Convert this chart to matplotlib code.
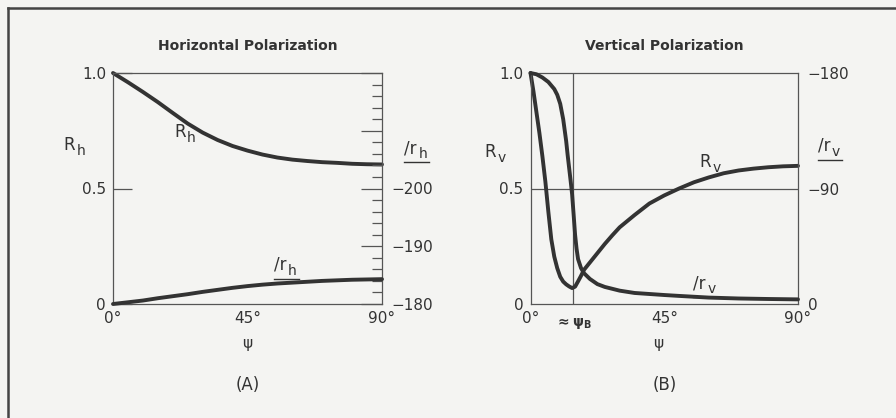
import numpy as np
import matplotlib
matplotlib.use('Agg')
import matplotlib.pyplot as plt
from matplotlib.lines import Line2D
from matplotlib.transforms import Bbox
from matplotlib.ticker import MultipleLocator

plt.rcParams['font.family'] = ['DejaVu Sans']
plt.rcParams['mathtext.default'] = 'regular'

# ---- data ----
# (A) horizontal polarization, psi in degrees
psi_h = [0, 5, 10, 15, 20, 25, 30, 35, 40, 45, 50, 55, 60, 65, 70, 75, 80, 85, 90]
R_h = [1.00, 0.960, 0.918, 0.874, 0.827, 0.781, 0.742, 0.710, 0.684, 0.664,
       0.647, 0.634, 0.625, 0.619, 0.614, 0.611, 0.607, 0.605, 0.604]
phase_h = [-180.0, -180.3, -180.6, -181.0, -181.35, -181.7, -182.1, -182.45, -182.8, -183.1,
           -183.35, -183.55, -183.7, -183.85, -184.0, -184.1, -184.2, -184.25, -184.3]

# (B) vertical polarization
psi_v = [0, 1, 2, 3, 4, 5, 6, 7, 8, 9, 10, 11, 12, 13, 14, 15, 16, 17, 18, 20,
         22.5, 25, 27.5, 30, 35, 40, 45, 50, 55, 60, 65, 70, 75, 80, 85, 90]
R_v = [1.0, 0.92, 0.83, 0.74, 0.64, 0.53, 0.40, 0.28, 0.205, 0.155, 0.118, 0.097,
       0.085, 0.076, 0.069, 0.075, 0.098, 0.122, 0.148, 0.18,
       0.22, 0.26, 0.297, 0.332, 0.385, 0.435, 0.47, 0.50, 0.527, 0.548, 0.566,
       0.578, 0.586, 0.592, 0.596, 0.598]
psi_pv = [0, 2, 4, 6, 8, 9, 10, 11, 12, 12.5, 13, 13.5, 14, 14.5, 15, 15.5, 16, 17,
          18, 20, 22.5, 25, 30, 35, 40, 45, 50, 60, 70, 80, 90]
phase_v = [-180, -179, -176.5, -173, -167.5, -163, -156, -144, -127, -116, -106, -96,
           -85.5, -70, -54, -43, -35, -28, -24, -19.5, -15.5, -13.3, -10.4, -8.6,
           -7.8, -7.0, -6.3, -5.0, -4.3, -3.9, -3.6]
psi_B = 14.3

bg = '#f4f4f2'
ink = '#333333'
frame = '#555555'
fig = plt.figure(figsize=(8.96, 4.18), dpi=100, facecolor=bg)

axA = fig.add_axes([113/896, 1-304/418, 269/896, 231/418], facecolor=bg)
axB = fig.add_axes([530.5/896, 1-304/418, 267.5/896, 231/418], facecolor=bg)

underlined = []


def setup(ax, title):
    ax.set_xlim(0, 90)
    ax.set_ylim(0, 1)
    for s in ax.spines.values():
        s.set_color(frame)
        s.set_linewidth(0.9)
    ax.set_xticks([0, 45, 90])
    ax.set_xticklabels(['0°', '45°', '90°'])
    ax.set_yticks([0, 0.5, 1.0])
    ax.set_yticklabels(['0', '0.5', '1.0'])
    ax.tick_params(axis='x', length=0, pad=5, labelsize=11, colors=ink)
    ax.tick_params(axis='y', labelsize=11, colors=ink)
    ax.text(0.5, 1.117, title, transform=ax.transAxes, ha='center', va='center',
            fontsize=10, fontweight='bold', color=ink)


def label(ax, x, y, main, sub, underline=False, size=12):
    # main letter plus a large, dropped subscript like the original lettering
    t = ax.text(x, y, main, transform=ax.transAxes, ha='right', va='center',
                fontsize=size, color=ink)
    s = ax.annotate(sub, xy=(1, 0), xycoords=t, xytext=(1, -3),
                    textcoords='offset points', ha='left', va='bottom',
                    fontsize=size - 2, color=ink)
    if underline:
        underlined.append((t, s))


# ---- panel A ----
setup(axA, 'Horizontal Polarization')
axA.tick_params(axis='y', direction='in', length=14, width=0.9, pad=5, color=frame)
axA.plot(psi_h, R_h, color=ink, lw=2.8, solid_capstyle='round', clip_on=False)
twA = axA.twinx()
twA.set_ylim(-180, -220)
twA.yaxis.set_major_locator(MultipleLocator(10))
twA.yaxis.set_minor_locator(MultipleLocator(2))
twA.yaxis.set_major_formatter(lambda v, p: {-180: '\u2212180', -190: '\u2212190', -200: '\u2212200'}.get(int(round(v)), ''))
twA.tick_params(axis='y', which='major', direction='in', length=15, width=0.9, pad=7,
                labelsize=11, colors=ink)
twA.tick_params(axis='y', which='major', color=frame)
twA.tick_params(axis='y', which='minor', direction='in', length=7.5, width=0.9, color=frame)
for s in twA.spines.values():
    s.set_visible(False)
twA.plot(psi_h, phase_h, color=ink, lw=2.8, solid_capstyle='round', clip_on=False)

label(axA, -0.14, 0.69, 'R', 'h')
label(axA, 0.27, 0.745, 'R', 'h')
label(axA, 1.13, 0.675, '/r', 'h', underline=True)
label(axA, 0.645, 0.17, '/r', 'h', underline=True)
axA.text(0.5, -0.177, r'$\psi$', transform=axA.transAxes, ha='center', va='center',
         fontsize=11, color=ink)
axA.text(0.5, -0.351, '(A)', transform=axA.transAxes, ha='center', va='center',
         fontsize=12, color=ink)

# ---- panel B ----
setup(axB, 'Vertical Polarization')
axB.tick_params(axis='y', length=0, pad=5)
axB.axhline(0.5, color=frame, lw=0.9)
axB.axvline(psi_B, color=frame, lw=0.9)
axB.plot(psi_v, R_v, color=ink, lw=2.8, solid_capstyle='round', clip_on=False)
twB = axB.twinx()
twB.set_ylim(0, -180)
twB.set_yticks([0, -90, -180])
twB.set_yticklabels(['0', '\u221290', '\u2212180'])
twB.tick_params(axis='y', length=0, pad=7, labelsize=11, colors=ink)
for s in twB.spines.values():
    s.set_visible(False)
twB.plot(psi_pv, phase_v, color=ink, lw=2.8, solid_capstyle='round', clip_on=False)

label(axB, -0.13, 0.66, 'R', 'v')
label(axB, 0.675, 0.615, 'R', 'v')
label(axB, 1.12, 0.685, '/r', 'v', underline=True)
label(axB, 0.655, 0.09, '/r', 'v', underline=True)
axB.text(psi_B / 90, -0.085, r'$\approx\psi_B$', transform=axB.transAxes,
         ha='center', va='center', fontsize=10, fontweight='bold', color=ink)
axB.text(0.48, -0.177, r'$\psi$', transform=axB.transAxes, ha='center', va='center',
         fontsize=11, color=ink)
axB.text(0.503, -0.351, '(B)', transform=axB.transAxes, ha='center', va='center',
         fontsize=12, color=ink)

# underline the phase-angle labels (positions known only after a draw)
fig.canvas.draw()
renderer = fig.canvas.get_renderer()
inv = fig.transFigure.inverted()
for t, s in underlined:
    bb = Bbox.union([t.get_window_extent(renderer), s.get_window_extent(renderer)])
    bb = bb.transformed(inv)
    yy = bb.y0 - 1.0 / 418
    fig.add_artist(Line2D([bb.x0, bb.x1 + 2 / 896], [yy, yy], color=ink, lw=1.0))

# page frame from the scan
fig.add_artist(Line2D([8/896, 1], [1-8/418, 1-8/418], color='#444444', lw=1.8))
fig.add_artist(Line2D([8/896, 8/896], [0, 1-8/418], color='#444444', lw=1.8))

fig.savefig('out.png', dpi=100, facecolor=bg)
